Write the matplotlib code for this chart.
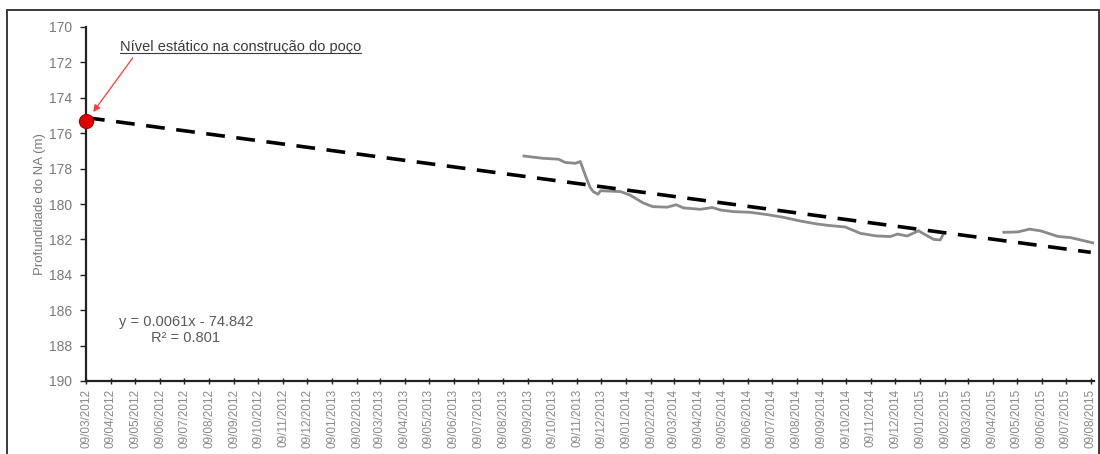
import matplotlib
matplotlib.use("Agg")
import matplotlib.pyplot as plt
import matplotlib.dates as mdates
from matplotlib.patches import Rectangle
from matplotlib.lines import Line2D
import pandas as pd

plt.rcParams["font.family"] = ["Liberation Sans", "DejaVu Sans"]

# Water-level depth series (two logging periods)
dates_1 = ["2013-09-04", "2013-09-28", "2013-10-17", "2013-10-25", "2013-11-07",
           "2013-11-13", "2013-11-19", "2013-11-25", "2013-11-29", "2013-12-05",
           "2013-12-08", "2014-01-02", "2014-01-14", "2014-01-30", "2014-02-11",
           "2014-03-01", "2014-03-12", "2014-03-21", "2014-04-11", "2014-04-26",
           "2014-05-06", "2014-05-22", "2014-06-12", "2014-07-03", "2014-07-23",
           "2014-08-13", "2014-09-03", "2014-09-19", "2014-10-08", "2014-10-27",
           "2014-11-15", "2014-12-03", "2014-12-12", "2014-12-24", "2015-01-07",
           "2015-01-16", "2015-01-26", "2015-02-03", "2015-02-06"]
depth_1 = [177.29, 177.42, 177.47, 177.65, 177.70,
           177.60, 178.36, 179.05, 179.30, 179.45,
           179.25, 179.30, 179.50, 179.94, 180.15,
           180.18, 180.04, 180.22, 180.30, 180.20,
           180.34, 180.43, 180.47, 180.60, 180.75,
           180.96, 181.13, 181.22, 181.30, 181.66,
           181.80, 181.84, 181.70, 181.81, 181.51,
           181.75, 182.00, 182.03, 181.78]

dates_2 = ["2015-04-23", "2015-05-10", "2015-05-25", "2015-06-08",
           "2015-06-29", "2015-07-15", "2015-07-31", "2015-08-12"]
depth_2 = [181.60, 181.58, 181.42, 181.52,
           181.83, 181.90, 182.07, 182.20]

# Static level measured when the well was built
static_date = "2012-03-09"
static_depth = 175.3

# Linear trend (x as Excel date serial)
trend_slope = 0.0061
trend_intercept = -74.842
trend_r2 = 0.801
trend_dates = ["2012-03-09", "2015-08-09"]

x_start, x_end = "2012-03-09", "2015-08-13"
y_min, y_max = 170, 190

fig = plt.figure(figsize=(11.0, 4.54), dpi=100)
ax = fig.add_axes([86 / 1100, 1 - 381 / 454, 1008 / 1100, 354 / 454])

# outer chart frame
fig.patches.append(Rectangle((7 / 1100, -0.02), 1092 / 1100, 1.02 - 10 / 454,
                             transform=fig.transFigure, fill=False,
                             edgecolor="#3a3a3a", linewidth=1.4))

d1 = pd.to_datetime(dates_1)
d2 = pd.to_datetime(dates_2)
ax.plot(d1, depth_1, color="#8a8a8a", linewidth=2.0, solid_joinstyle="round")
ax.plot(d2, depth_2, color="#8a8a8a", linewidth=2.0, solid_joinstyle="round")

td = pd.to_datetime(trend_dates)
excel_serial = [mdates.date2num(t) + 25569 for t in td]
trend_vals = [trend_slope * s + trend_intercept for s in excel_serial]
ax.plot(td, trend_vals, color="black", linewidth=2.6, linestyle=(0, (5.2, 3.2)))

ax.plot(pd.to_datetime([static_date]), [static_depth], marker="o", markersize=10,
        color="#e00000", markeredgecolor="#b00000", clip_on=False, zorder=5)

ax.set_xlim(pd.Timestamp(x_start), pd.Timestamp(x_end))
ax.set_ylim(y_max, y_min)
ax.set_yticks(range(y_min, y_max + 1, 2))

ax.xaxis.set_major_locator(mdates.MonthLocator(bymonthday=9))
ax.xaxis.set_major_formatter(mdates.DateFormatter("%d/%m/%Y"))
for lbl in ax.get_xticklabels():
    lbl.set_rotation(90)

ax.tick_params(axis="y", direction="out", length=4, width=1, color="#222222",
               labelsize=10, labelcolor="#7a7a7a", pad=6)
ax.tick_params(axis="x", direction="inout", length=5, width=1, color="#222222",
               labelsize=8.5, labelcolor="#8a8a8a", pad=3)
for s in ("top", "right"):
    ax.spines[s].set_visible(False)
for s in ("left", "bottom"):
    ax.spines[s].set_color("#222222")
    ax.spines[s].set_linewidth(1.6)

ax.set_ylabel("Profundidade do NA (m)", fontsize=9.5, color="#7a7a7a", labelpad=2)

# annotation for the static level
label = ax.text(pd.Timestamp("2012-04-20"), 171.15,
                "Nível estático na construção do poço", fontsize=10.5,
                color="#3a3a3a", va="center", ha="left")
ax.annotate("", xy=(pd.Timestamp("2012-03-18"), 174.8),
            xytext=(pd.Timestamp("2012-05-06"), 171.75),
            arrowprops=dict(arrowstyle="-|>", color="#ff3a3a", lw=0.9,
                            mutation_scale=10, shrinkA=0, shrinkB=0))

fig.canvas.draw()
bb = label.get_window_extent().transformed(fig.transFigure.inverted())
fig.lines.append(Line2D([bb.x0, bb.x1], [bb.y0 + 0.002, bb.y0 + 0.002],
                        transform=fig.transFigure, color="#3a3a3a", linewidth=0.8))

eq_text = f"y = {trend_slope}x - {abs(trend_intercept)}\nR² = {trend_r2}"
ax.text(0.0992, 0.144, eq_text, transform=ax.transAxes, fontsize=10.5,
        color="#5a5a5a", ha="center", va="center", multialignment="center",
        linespacing=1.15)

fig.savefig("out.png", dpi=100)
